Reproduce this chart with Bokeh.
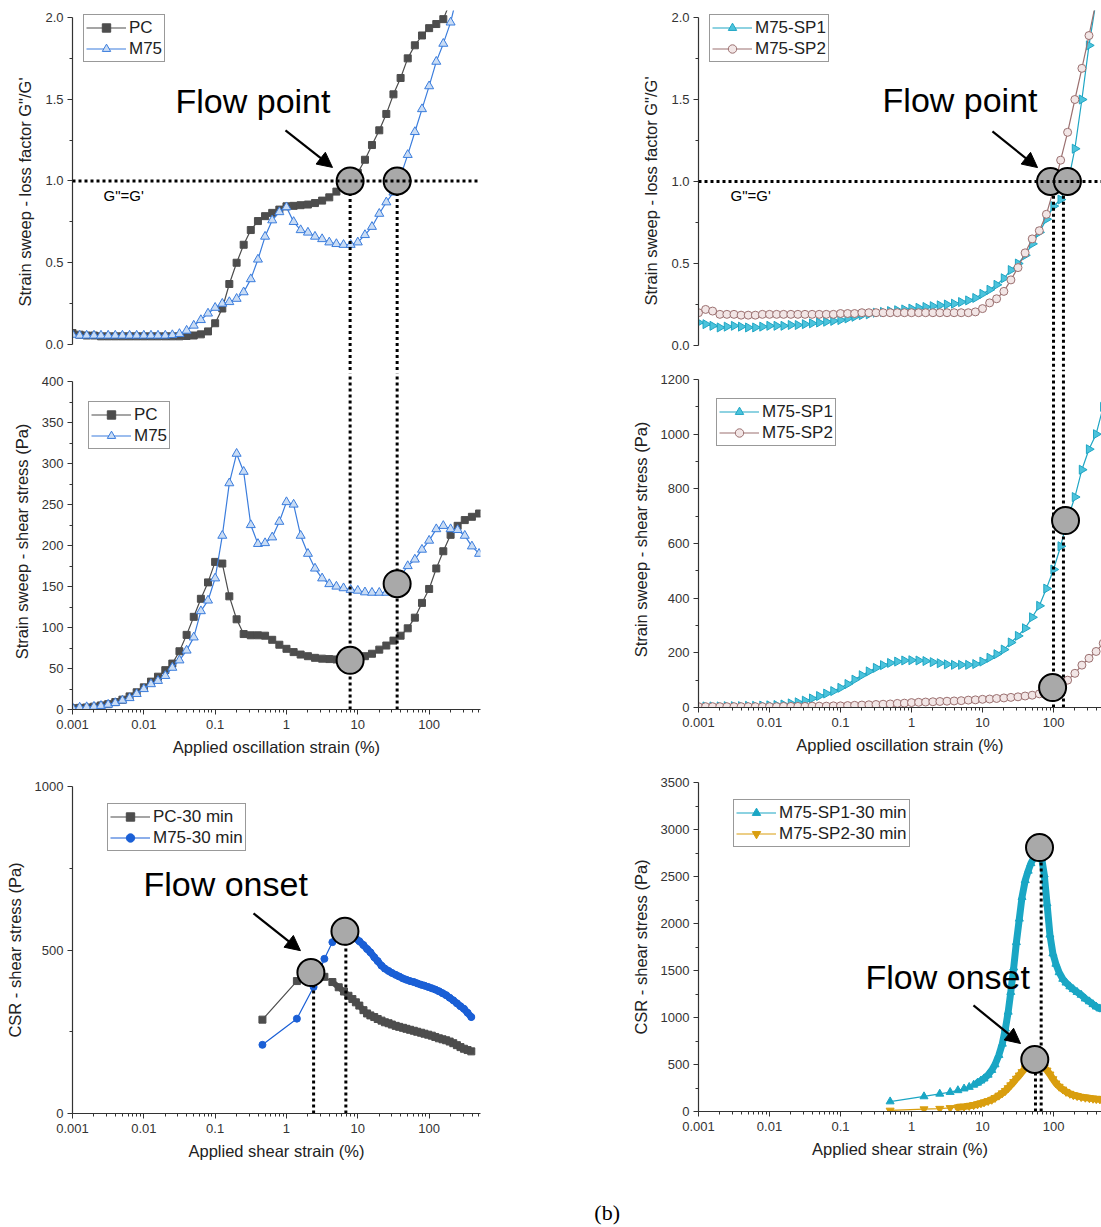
import numpy as np
from bokeh.plotting import figure
from bokeh.layouts import row, column
from bokeh.models import (FixedTicker, CustomJSTickFormatter, PrintfTickFormatter, Span,
                          Arrow, NormalHead, Legend, LegendItem, Range1d)
from bokeh.embed import file_html
from bokeh.resources import INLINE
from bokeh.core.properties import value

# ---------------- data ----------------
STRAIN = [0.001, 0.00126, 0.00158, 0.002, 0.00251, 0.00316, 0.00398, 0.00501, 0.00631, 0.00794,
          0.01, 0.0126, 0.0158, 0.02, 0.0251, 0.0316, 0.0398, 0.0501, 0.0631, 0.0794,
          0.1, 0.126, 0.158, 0.2, 0.251, 0.316, 0.398, 0.501, 0.631, 0.794,
          1, 1.26, 1.58, 2, 2.51, 3.16, 3.98, 5.01, 6.31, 7.94,
          10, 12.6, 15.8, 20, 25.1, 31.6, 39.8, 50.1, 63.1, 79.4,
          100, 126, 158, 200, 251, 316, 398, 501]

PC_LF = [0.07, 0.06, 0.055, 0.055, 0.05, 0.05, 0.05, 0.05, 0.05, 0.05,
         0.05, 0.05, 0.05, 0.05, 0.05, 0.05, 0.052, 0.055, 0.062, 0.08,
         0.13, 0.22, 0.37, 0.50, 0.61, 0.70, 0.755, 0.785, 0.805, 0.825,
         0.845, 0.848, 0.852, 0.856, 0.865, 0.88, 0.90, 0.935, 0.97, 1.0,
         1.05, 1.13, 1.22, 1.31, 1.41, 1.53, 1.63, 1.75, 1.83, 1.89,
         1.935, 1.96, 1.99, 2.1, 2.2, 2.3, 2.4, 2.5]
M75_LF = [0.06, 0.055, 0.055, 0.055, 0.055, 0.055, 0.055, 0.055, 0.055, 0.055,
          0.055, 0.055, 0.055, 0.055, 0.058, 0.065, 0.085, 0.116, 0.15, 0.19,
          0.225, 0.25, 0.26, 0.28, 0.32, 0.40, 0.52, 0.66, 0.76, 0.81,
          0.84, 0.75, 0.70, 0.685, 0.66, 0.645, 0.625, 0.615, 0.61, 0.61,
          0.625, 0.67, 0.72, 0.80, 0.87, 0.93, 1.03, 1.16, 1.30, 1.44,
          1.58, 1.73, 1.84, 1.97, 2.15, 2.3, 2.4, 2.5]

PC_SS = [1.5, 2, 2.5, 3.5, 5, 6.5, 9, 12, 16, 21,
         27, 34, 40, 48, 56, 71, 91, 113, 135, 155,
         180, 178, 138, 110, 92, 90.5, 90.5, 90, 85, 79,
         74, 70, 67, 65, 63, 62, 61.5, 61, 60, 60,
         62, 65, 68, 73, 78, 84, 90, 99, 112, 130,
         147, 172, 193, 213, 224, 231, 235, 239]
M75_SS = [2, 2.5, 3, 3.5, 4.5, 6, 8, 11, 14, 19,
          25, 31, 35, 41, 51, 60, 72, 88, 120, 133,
          160, 212, 276, 312, 290, 225, 202, 203, 210, 229,
          253, 250, 212, 190, 172, 160, 153, 150, 148, 146,
          145, 143, 142.5, 142.5, 142.5, 148, 163, 175, 183, 195,
          206, 220, 224, 220, 219, 212, 199, 190]

SP1_LF = [0.14, 0.13, 0.12, 0.11, 0.115, 0.12, 0.115, 0.11, 0.11, 0.115,
          0.12, 0.12, 0.12, 0.125, 0.125, 0.13, 0.135, 0.14, 0.145, 0.15,
          0.155, 0.165, 0.175, 0.185, 0.19, 0.2, 0.205, 0.21, 0.215, 0.22,
          0.225, 0.23, 0.235, 0.24, 0.245, 0.25, 0.255, 0.265, 0.275, 0.29,
          0.315, 0.34, 0.37, 0.41, 0.46, 0.50, 0.55, 0.62, 0.69, 0.77,
          0.85, 0.89, 0.98, 1.2, 1.5, 1.83, 2.1, 2.3]
SP2_LF = [0.20, 0.22, 0.21, 0.19, 0.19, 0.19, 0.185, 0.185, 0.185, 0.19,
          0.19, 0.19, 0.19, 0.19, 0.19, 0.19, 0.19, 0.19, 0.19, 0.19,
          0.195, 0.195, 0.195, 0.2, 0.2, 0.2, 0.2, 0.2, 0.2, 0.2,
          0.2, 0.2, 0.2, 0.2, 0.2, 0.2, 0.2, 0.2, 0.2, 0.205,
          0.225, 0.26, 0.285, 0.33, 0.40, 0.475, 0.565, 0.65, 0.70, 0.80,
          0.95, 1.13, 1.30, 1.50, 1.69, 1.89, 2.1, 2.3]

SP1_SS = [4, 4, 4, 4, 5, 5, 5, 6, 6, 7,
          8, 9, 11, 15, 19, 25, 33, 42, 51, 60,
          72, 86, 102, 118, 132, 145, 155, 163, 168, 172,
          173, 172, 170, 166, 162, 158, 156, 156, 156, 159,
          168, 182, 195, 212, 238, 262, 290, 330, 372, 435,
          505, 590, 690, 770, 870, 945, 1000, 1100]
SP2_SS = [3, 3, 3, 3, 3, 3, 3, 3, 3, 3,
          3, 3, 4, 4, 4, 4, 5, 5, 5, 6,
          6, 7, 8, 9, 10, 11, 12, 13, 15, 16,
          18, 19, 20, 21, 22, 23, 24, 25, 27, 28,
          30, 31, 33, 35, 37, 39, 42, 45, 50, 58,
          70, 85, 100, 125, 155, 180, 205, 235]

CSR_L_X = [0.46, 1.4, 2.4, 3.4, 4.4, 5.4, 6.4, 7.4, 8.4, 9.4,
           10.5, 12, 13.5, 15, 17, 19, 21.5, 24, 27, 30,
           34, 38, 43, 48, 54, 61, 68, 77, 86, 97,
           109, 122, 137, 154, 173, 194, 218, 245, 275, 308,
           346, 390]
PC30 = [287, 405, 430, 418, 402, 386, 373, 360, 350, 340,
        330, 316, 306, 300, 295, 289, 284, 279, 276, 272,
        268, 265, 262, 259, 256, 253, 250, 247, 244, 241,
        238, 234, 230, 227, 224, 220, 215, 209, 203, 198,
        194, 190]
M7530 = [210, 290, 387, 473, 524, 545, 557, 552, 543, 535,
         527, 515, 503, 493, 478, 466, 452, 443, 436, 430,
         424, 419, 413, 409, 405, 402, 398, 394, 391, 387,
         383, 379, 374, 368, 362, 354, 346, 337, 328, 320,
         308, 295]

CSR_R_X = [0.5, 1.5, 2.5, 3.5, 4.5, 5.5, 6.5, 7.5, 8.5, 9.5,
           10.5, 12, 13.5, 15, 17, 19, 21, 23, 25, 27.5,
           30, 33, 36, 40, 44, 48, 53, 58, 63, 68,
           74, 81, 89, 98, 108, 120, 135, 150, 170, 190,
           215, 245, 280, 320, 360, 400, 450]
SP130 = [106, 160, 188, 206, 225, 243, 260, 283, 305, 328,
         350, 390, 440, 500, 600, 720, 880, 1060, 1270, 1530,
         1800, 2050, 2280, 2460, 2560, 2640, 2700, 2760, 2810, 2700,
         2520, 2212, 1880, 1680, 1570, 1480, 1410, 1370, 1330, 1300,
         1270, 1240, 1200, 1170, 1140, 1115, 1095]
SP230 = [11, 25, 30, 38, 45, 52, 60, 68, 77, 88,
         98, 112, 126, 145, 170, 195, 220, 250, 280, 315,
         350, 385, 420, 460, 490, 515, 530, 525, 515, 500,
         470, 437, 395, 345, 300, 265, 235, 210, 190, 175,
         165, 155, 148, 142, 137, 133, 130]

X_TICKS = [0.001, 0.01, 0.1, 1, 10, 100]
X_LABELS = ["0.001", "0.01", "0.1", "1", "10", "100"]

# ---------------- styling helpers ----------------
FONT = "Liberation Sans"
AX = "#333333"
DOT = "3 3"

x_minor = [m * 10.0 ** e for e in range(-3, 3) for m in range(2, 10)]
x_fmt = CustomJSTickFormatter(args=dict(t=X_TICKS, l=X_LABELS), code="""
    for (let i = 0; i < t.length; i++) { if (Math.abs(Math.log10(tick) - Math.log10(t[i])) < 1e-6) return l[i]; }
    return '';
""")


def make_fig(width, height, left, right, top, bottom, xend, yr, show_x):
    p = figure(width=width, height=height, x_axis_type="log",
               x_range=Range1d(0.001, xend), y_range=Range1d(*yr),
               output_backend="svg", toolbar_location=None,
               min_border_left=left, min_border_right=right,
               min_border_top=top, min_border_bottom=bottom)
    p.outline_line_color = None
    p.grid.visible = False
    p.background_fill_color = "white"
    p.border_fill_color = "white"
    for ax in [p.xaxis[0], p.yaxis[0]]:
        ax.axis_line_color = AX
        ax.axis_line_width = 1.2
        ax.major_tick_line_color = AX
        ax.minor_tick_line_color = AX
        ax.major_tick_in = 0
        ax.major_tick_out = 5
        ax.minor_tick_in = 0
        ax.minor_tick_out = 3
        ax.major_label_text_font = FONT
        ax.major_label_text_font_size = "13px"
        ax.major_label_text_color = AX
        ax.axis_label_text_font = FONT
        ax.axis_label_text_font_size = "16.5px"
        ax.axis_label_text_font_style = "normal"
        ax.axis_label_text_color = "#222222"
    p.yaxis.major_label_standoff = 4
    p.yaxis.axis_label_standoff = 8
    p.xaxis.major_label_standoff = 5
    p.xaxis.axis_label_standoff = 6
    p.xaxis.ticker = FixedTicker(ticks=X_TICKS, minor_ticks=x_minor)
    p.xaxis.formatter = x_fmt
    if not show_x:
        p.xaxis.visible = False
    return p


def add_legend(p, items, loc):
    lg = Legend(items=[LegendItem(label=l, renderers=r) for l, r in items], location=loc)
    lg.border_line_color = "#333333"
    lg.border_line_width = 1
    lg.padding = 2
    lg.spacing = 0
    lg.margin = 0
    lg.glyph_width = 40
    lg.glyph_height = 21
    lg.label_height = 21
    lg.label_standoff = 3
    lg.label_text_font = FONT
    lg.label_text_font_size = "17px"
    lg.label_text_color = "#222222"
    lg.background_fill_alpha = 1
    p.add_layout(lg)


def series(p, x, y, color, marker, size, fill, angle=0.0, lw=1.2, mlw=1.0):
    r1 = p.line(x, y, line_color=color, line_width=lw)
    r2 = p.scatter(x, y, marker=marker, size=size, fill_color=fill, line_color=color,
                   line_width=mlw, angle=angle)
    return [r1, r2]


def band(p, x, y, color, xmin, width=7):
    # dense measurement region: overlapping markers read as a thick band
    xs = [a for a in x if a >= xmin]
    ys = [b for a, b in zip(x, y) if a >= xmin]
    p.line(xs, ys, line_color=color, line_width=width, line_join="round", line_cap="round")


def flow_circles(p, xs, ys):
    p.scatter(xs, ys, marker="circle", size=27, fill_color="#a9a9a9", line_color="black", line_width=2)


def label(p, x, y, text, size):
    p.text(x=[x], y=[y], text=[text], text_font=value(FONT), text_font_size=size,
           text_baseline="middle", text_align="left", text_color="black")


def arrow(p, x0, y0, x1, y1):
    p.add_layout(Arrow(end=NormalHead(size=15, fill_color="black", line_color="black"),
                       x_start=x0, y_start=y0, x_end=x1, y_end=y1,
                       line_color="black", line_width=2.2))


def vdot(p, x, y0, y1):
    p.segment(x0=[x], y0=[y0], x1=[x], y1=[y1], line_color="black", line_width=3, line_dash=DOT)


LX_END = 525
RX_END = 474
GRAY = "#4d4d4d"
BLUE = "#3b7ddd"
CYAN = "#1fa6c4"
BROWN = "#9b7070"

# ---------------- left column ----------------
lt = make_fig(600, 373, 72, 120, 10, 0, LX_END, (-0.1774, 2.0428), False)
lt.yaxis.bounds = (0, 2)
lt.yaxis.ticker = FixedTicker(ticks=[0, 0.5, 1, 1.5, 2], minor_ticks=[0.25, 0.75, 1.25, 1.75])
lt.yaxis.formatter = PrintfTickFormatter(format="%.1f")
lt.yaxis.axis_label = "Strain sweep - loss factor G\"/G'"
r_pc = series(lt, STRAIN, PC_LF, GRAY, "square", 7, GRAY)
r_m = series(lt, STRAIN, M75_LF, BLUE, "triangle", 9, "#c9dcf5")
lt.add_layout(Span(location=1.0, dimension="width", line_color="black", line_width=3, line_dash=DOT))
vdot(lt, 7.8, 1.0, -0.5)
vdot(lt, 35.6, 1.0, -0.5)
flow_circles(lt, [7.8, 35.6], [1.0, 1.0])
label(lt, 0.0278, 1.49, "Flow point", "34px")
label(lt, 0.00272, 0.911, "G\"=G'", "15px")
arrow(lt, 0.968, 1.309, 4.42, 1.083)
add_legend(lt, [("PC", r_pc), ("M75", r_m)], (11, 311))

lm = make_fig(600, 405, 72, 120, 0, 69, LX_END, (0, 409.76), True)
lm.yaxis.bounds = (0, 400)
lm.yaxis.ticker = FixedTicker(ticks=list(range(0, 401, 50)), minor_ticks=list(range(25, 400, 50)))
lm.yaxis.axis_label = "Strain sweep - shear stress (Pa)"
lm.xaxis.axis_label = "Applied oscillation strain (%)"
r_pc2 = series(lm, STRAIN, PC_SS, GRAY, "square", 7, GRAY)
r_m2 = series(lm, STRAIN, M75_SS, BLUE, "triangle", 9, "#c9dcf5")
vdot(lm, 7.8, 0, 420)
vdot(lm, 35.6, 0, 420)
flow_circles(lm, [7.8, 35.6], [60, 153.5])
add_legend(lm, [("PC", r_pc2), ("M75", r_m2)], (16, 260))

lb = make_fig(600, 395, 72, 120, 8, 60, LX_END, (0, 1000), True)
lb.yaxis.ticker = FixedTicker(ticks=[0, 500, 1000], minor_ticks=[250, 750])
lb.yaxis.axis_label = "CSR - shear stress (Pa)"
lb.xaxis.axis_label = "Applied shear strain (%)"
band(lb, CSR_L_X, PC30, GRAY, 4.4, 6)
band(lb, CSR_L_X, M7530, "#1a5fd6", 7.4, 7)
r_pc3 = series(lb, CSR_L_X, PC30, GRAY, "square", 7, GRAY)
r_m3 = series(lb, CSR_L_X, M7530, "#1a5fd6", "circle", 7, "#1a5fd6")
vdot(lb, 2.4, 0, 431)
vdot(lb, 6.8, 0, 557)
flow_circles(lb, [2.2, 6.6], [431, 557])
label(lb, 0.00989, 703, "Flow onset", "34px")
arrow(lb, 0.345, 612, 1.57, 498)
add_legend(lb, [("PC-30 min", r_pc3), ("M75-30 min", r_m3)], (35, 262))

# ---------------- right column ----------------
rt = make_fig(501, 371, 98, 0, 10, 0, RX_END, (-0.1585, 2.0427), False)
rt.yaxis.bounds = (0, 2)
rt.yaxis.ticker = FixedTicker(ticks=[0, 0.5, 1, 1.5, 2], minor_ticks=[0.25, 0.75, 1.25, 1.75])
rt.yaxis.formatter = PrintfTickFormatter(format="%.1f")
rt.yaxis.axis_label = "Strain sweep - loss factor G\"/G'"
r_s1 = series(rt, STRAIN, SP1_LF, CYAN, "triangle", 9, "#4cc3dc", angle=-np.pi / 2)
r_s2 = series(rt, STRAIN, SP2_LF, BROWN, "circle", 8, "#f2e6e6")
rt.add_layout(Span(location=1.0, dimension="width", line_color="black", line_width=3, line_dash=DOT))
vdot(rt, 100, 0.95, -0.5)
vdot(rt, 138, 0.95, -0.5)
flow_circles(rt, [90.8, 157], [1.0, 1.0])
label(rt, 0.391, 1.494, "Flow point", "34px")
label(rt, 0.00282, 0.915, "G\"=G'", "15px")
arrow(rt, 13.8, 1.305, 59.6, 1.085)
add_legend(rt, [("M75-SP1", r_s1), ("M75-SP2", r_s2)], (11, 309))

rm = make_fig(501, 403, 98, 0, 0, 67, RX_END, (0, 1229.3), True)
rm.yaxis.bounds = (0, 1200)
rm.yaxis.ticker = FixedTicker(ticks=list(range(0, 1201, 200)), minor_ticks=list(range(100, 1200, 200)))
rm.yaxis.axis_label = "Strain sweep - shear stress (Pa)"
rm.xaxis.axis_label = "Applied oscillation strain (%)"
r_s1b = series(rm, STRAIN, SP1_SS, CYAN, "triangle", 9, "#4cc3dc", angle=-np.pi / 2)
r_s2b = series(rm, STRAIN, SP2_SS, BROWN, "circle", 8, "#f2e6e6")
vdot(rm, 100, 0, 1300)
vdot(rm, 138, 0, 1300)
flow_circles(rm, [97, 147.6], [73, 684])
add_legend(rm, [("M75-SP1", r_s1b), ("M75-SP2", r_s2b)], (18, 261))

rb = make_fig(501, 399, 98, 0, 8, 62, RX_END, (0, 3500), True)
rb.yaxis.ticker = FixedTicker(ticks=list(range(0, 3501, 500)), minor_ticks=list(range(250, 3500, 500)))
rb.yaxis.axis_label = "CSR - shear stress (Pa)"
rb.xaxis.axis_label = "Applied shear strain (%)"
band(rb, CSR_R_X, SP130, "#1aa6c4", 8.5, 7)
band(rb, CSR_R_X, SP230, "#d99e0f", 4.5, 7)
r_c1 = series(rb, CSR_R_X, SP130, "#1aa6c4", "triangle", 8, "#1aa6c4")
r_c2 = series(rb, CSR_R_X, SP230, "#d99e0f", "inverted_triangle", 8, "#d99e0f")
vdot(rb, 67, 0, 2808)
vdot(rb, 55.7, 0, 553)
flow_circles(rb, [63.5, 54.5], [2808, 553])
label(rb, 0.225, 1426, "Flow onset", "34px")
arrow(rb, 7.46, 1128, 34.3, 723)
add_legend(rb, [("M75-SP1-30 min", r_c1), ("M75-SP2-30 min", r_c2)], (35, 264))

# ---------------- caption ----------------
cap = figure(width=1101, height=54, x_range=(0, 1), y_range=(0, 1), output_backend="svg",
             toolbar_location=None, min_border=0)
cap.axis.visible = False
cap.grid.visible = False
cap.outline_line_color = None
cap.text(x=[0.551], y=[0.28], text=["(b)"], text_font=value("Liberation Serif"),
         text_font_size="22px", text_align="center", text_baseline="middle", text_color="black")

layout = column(row(column(lt, lm, lb, spacing=0), column(rt, rm, rb, spacing=0), spacing=0), cap, spacing=0)

open("out.html", "w").write(file_html(layout, INLINE))
